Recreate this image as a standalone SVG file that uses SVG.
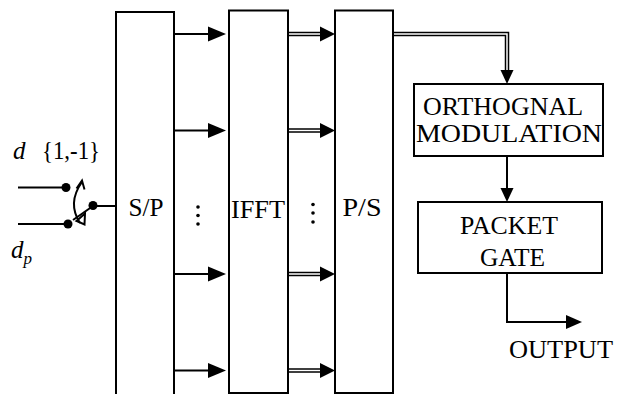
<svg xmlns="http://www.w3.org/2000/svg" width="623" height="394" viewBox="0 0 623 394">
<style>
.box{fill:#fff;stroke:#000;stroke-width:2}
.ln{fill:none;stroke:#000;stroke-width:2}
.dl{fill:none;stroke:#000;stroke-width:1.5}
.hd{fill:#000;stroke:none}
text{font-family:'Liberation Serif',serif;font-size:25px;fill:#000}
.i{font-style:italic}
</style>
<rect width="623" height="394" fill="#fff"/>
<g id="sp"><rect class="box" x="116" y="12" width="58" height="390"/><text x="128.5" y="216" textLength="35" lengthAdjust="spacingAndGlyphs">S/P</text></g>
<g id="ifft"><rect class="box" x="229" y="10.5" width="59" height="382.5"/><text x="231" y="218" textLength="54" lengthAdjust="spacingAndGlyphs">IFFT</text></g>
<g id="ps"><rect class="box" x="335" y="10.5" width="58" height="382.5"/><text x="342.5" y="216" textLength="39" lengthAdjust="spacingAndGlyphs">P/S</text></g>
<g id="omod"><rect class="box" x="414" y="84" width="189" height="72"/><text x="423" y="115" textLength="160" lengthAdjust="spacingAndGlyphs">ORTHOGNAL</text><text x="416" y="141.5" textLength="186" lengthAdjust="spacingAndGlyphs">MODULATION</text></g>
<g id="pgate"><rect class="box" x="418" y="202" width="184" height="71"/><text x="460" y="234" textLength="98" lengthAdjust="spacingAndGlyphs">PACKET</text><text x="480" y="266" textLength="65" lengthAdjust="spacingAndGlyphs">GATE</text></g>
<g id="labels">
<text class="i" x="13" y="159">d</text>
<text x="42" y="159" textLength="58" lengthAdjust="spacingAndGlyphs">{1,-1}</text>
<text class="i" x="11" y="258">d</text>
<text class="i" x="23.5" y="264" style="font-size:17px">p</text>
<text x="509" y="358" textLength="104" lengthAdjust="spacingAndGlyphs">OUTPUT</text>
<g fill="#000"><circle cx="198" cy="207" r="1.8"/><circle cx="198" cy="215.5" r="1.8"/><circle cx="198" cy="224" r="1.8"/><circle cx="313" cy="204.5" r="1.8"/><circle cx="313" cy="213" r="1.8"/><circle cx="313" cy="222" r="1.8"/></g>
</g>
<g id="switch">
<line class="ln" x1="18" y1="187.5" x2="66" y2="187.5"/>
<line class="ln" x1="18" y1="224" x2="68" y2="224"/>
<line class="ln" x1="93" y1="206" x2="116" y2="206"/>
<line class="ln" x1="93" y1="206" x2="73" y2="220"/>
<circle cx="66" cy="187.5" r="4.5" fill="#000"/>
<circle cx="68" cy="224" r="4.5" fill="#000"/>
<circle cx="93" cy="205.5" r="4.5" fill="#000"/>
<path class="ln" d="M82,182 Q67,203 80,223"/>
<path class="ln" d="M76.5,188.5 L82,180.5 L84.5,189.5"/>
<path class="ln" d="M85,213.5 L84.5,224.5 L76.5,221 Z"/>
</g>
<g id="connectors">
<line class="ln" x1="174" y1="34" x2="212" y2="34"/><path class="hd" d="M208,26.5 L226,34 L208,41.5 Z"/>
<line class="ln" x1="174" y1="130.5" x2="212" y2="130.5"/><path class="hd" d="M208,123 L226,130.5 L208,138 Z"/>
<line class="ln" x1="174" y1="274" x2="212" y2="274"/><path class="hd" d="M208,266.5 L226,274 L208,281.5 Z"/>
<line class="ln" x1="174" y1="370.5" x2="212" y2="370.5"/><path class="hd" d="M208,363 L226,370.5 L208,378 Z"/>
<path class="dl" d="M288,32.5 H322 M288,35.5 H322"/><path class="hd" d="M320,26.5 L335,34 L320,41.5 Z"/>
<path class="dl" d="M288,129 H322 M288,132 H322"/><path class="hd" d="M320,123 L335,130.5 L320,138 Z"/>
<path class="dl" d="M288,272.5 H322 M288,275.5 H322"/><path class="hd" d="M320,266.5 L335,274 L320,281.5 Z"/>
<path class="dl" d="M288,369 H322 M288,372 H322"/><path class="hd" d="M320,363 L335,370.5 L320,378 Z"/>
<path class="dl" d="M393,32.5 H508.5 V72 M393,35.5 H505.5 V72"/><path class="hd" d="M500.5,70 L507,84 L513.5,70 Z"/>
<line class="ln" x1="507" y1="156" x2="507" y2="190"/><path class="hd" d="M500.5,188 L507,202 L513.5,188 Z"/>
<path class="ln" d="M507,273 V322 H568"/><path class="hd" d="M566,315 L582,322 L566,329 Z"/>
</g>
</svg>
